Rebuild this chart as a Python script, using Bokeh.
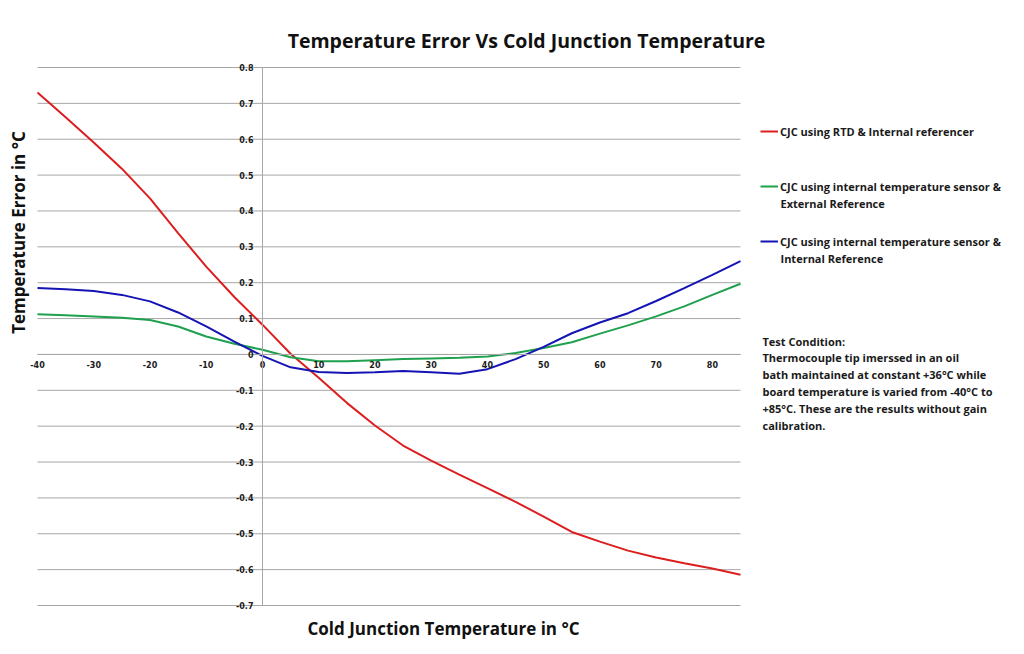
import math
from bokeh.plotting import figure
from bokeh.models import (Range1d, LinearAxis, FixedTicker, Label, Legend, LegendItem)
from bokeh.embed import file_html
from bokeh.resources import INLINE

# ---- data ----
temps = [-40, -35, -30, -25, -20, -15, -10, -5, 0, 5, 10, 15, 20, 25, 30, 35,
         40, 45, 50, 55, 60, 65, 70, 75, 80, 85]
rtd_internal = [0.730, 0.661, 0.591, 0.518, 0.435, 0.338, 0.245, 0.160, 0.083, 0.002,
                -0.065, -0.135, -0.198, -0.254, -0.296, -0.335, -0.373, -0.411,
                -0.452, -0.495, -0.522, -0.547, -0.566, -0.582, -0.597, -0.614]
sensor_external = [0.112, 0.109, 0.106, 0.102, 0.096, 0.078, 0.050, 0.030, 0.013, -0.008,
                   -0.019, -0.019, -0.016, -0.013, -0.011, -0.009, -0.006, 0.004,
                   0.018, 0.034, 0.058, 0.081, 0.106, 0.134, 0.166, 0.197]
sensor_internal = [0.185, 0.182, 0.177, 0.166, 0.148, 0.117, 0.078, 0.036, -0.004, -0.036,
                   -0.049, -0.052, -0.050, -0.046, -0.050, -0.054, -0.041, -0.013,
                   0.021, 0.059, 0.089, 0.115, 0.149, 0.185, 0.222, 0.260]

x_min, x_max = -40, 85
y_min, y_max = -0.7, 0.8
x_ticks = [-40, -30, -20, -10, 0, 10, 20, 30, 40, 50, 60, 70, 80]
x_tick_labels = ["-40", "-30", "-20", "-10", "0", "10", "20", "30", "40", "50", "60", "70", "80"]
y_ticks = [-0.7, -0.6, -0.5, -0.4, -0.3, -0.2, -0.1, 0, 0.1, 0.2, 0.3, 0.4, 0.5, 0.6, 0.7, 0.8]
y_tick_labels = ["-0.7", "-0.6", "-0.5", "-0.4", "-0.3", "-0.2", "-0.1", "0",
                 "0.1", "0.2", "0.3", "0.4", "0.5", "0.6", "0.7", "0.8"]

series_names = ["CJC using RTD & Internal referencer",
                "CJC using internal temperature sensor &",
                "CJC using internal temperature sensor &"]
series_second_lines = ["", "External Reference", "Internal Reference"]
series_colors = ["#dc1e1e", "#1fa04e", "#1414b4"]

title_text = "Temperature Error Vs Cold Junction Temperature"
x_title = "Cold Junction Temperature in \u00b0C"
y_title = "Temperature Error in \u00b0C"
note_title = "Test Condition:"
note_lines = ["Thermocouple  tip imerssed  in an oil",
              "bath maintained at constant +36\u00b0C while",
              "board temperature  is varied from -40\u00b0C to",
              "+85\u00b0C. These are the results without gain",
              "calibration."]

FONT = "Open Sans"
GRAY = "#a6a6a6"
TXT = "#1a1a1a"

W, H = 1016, 646
# plot region in canvas pixels: x -40 -> 37, 85 -> 740 ; y 0.8 -> 67, -0.7 -> 605
dx = (x_max - x_min) / 703
dy = (y_max - y_min) / 538


def fx(px):
    return x_min + (px - 37) * dx


def fy(py):
    return y_max - (py - 67) * dy


p = figure(width=W, height=H, x_range=Range1d(fx(0), fx(W)), y_range=Range1d(fy(H), fy(0)),
           output_backend="svg", toolbar_location=None,
           x_axis_type=None, y_axis_type=None,
           min_border_left=0, min_border_right=0, min_border_top=0, min_border_bottom=0)
p.outline_line_color = None
p.background_fill_color = "white"
p.border_fill_color = "white"

# horizontal grid lines spanning the plotted temperature range
p.segment(x0=[x_min] * len(y_ticks), x1=[x_max] * len(y_ticks), y0=y_ticks, y1=y_ticks,
          line_color=GRAY, line_width=1)

yticker = FixedTicker(ticks=y_ticks)
xticker = FixedTicker(ticks=x_ticks)
xaxis = LinearAxis(fixed_location=0, ticker=xticker, bounds=(x_min, x_max),
                   major_label_overrides=dict(zip(x_ticks, x_tick_labels)))
yaxis = LinearAxis(fixed_location=0, ticker=yticker, bounds=(y_min, y_max),
                   major_label_overrides=dict(zip(y_ticks, y_tick_labels)))
for ax in (xaxis, yaxis):
    ax.axis_line_color = GRAY
    ax.axis_line_width = 1
    ax.major_tick_in = 0
    ax.major_tick_out = 0
    ax.minor_tick_in = 0
    ax.minor_tick_out = 0
    ax.major_label_text_font = "DejaVu Sans"
    ax.major_label_text_font_style = "bold"
    ax.major_label_text_font_size = "8px"
    ax.major_label_text_color = TXT
xaxis.major_label_standoff = 7
yaxis.major_label_standoff = 9
p.add_layout(xaxis, "below")
p.add_layout(yaxis, "left")

renderers = []
for ys, c in zip([rtd_internal, sensor_external, sensor_internal], series_colors):
    r = p.line(temps, ys, line_color=c, line_width=2)
    renderers.append(r)

legend = Legend(items=[LegendItem(label=n, renderers=[r]) for n, r in zip(series_names, renderers)],
                location=(760, H - 249), margin=0, padding=0, spacing=39,
                label_height=16, glyph_height=16, glyph_width=18, label_standoff=2,
                label_text_font=FONT, label_text_font_style="bold", label_text_font_size="11px",
                label_text_color=TXT,
                border_line_color=None, background_fill_alpha=0)
p.add_layout(legend)

p.add_layout(Label(x=fx(526), y=fy(40), text=title_text, text_align="center", text_baseline="middle",
                   text_font=FONT, text_font_style="bold", text_font_size="19.5px", text_color="#111111"))
p.add_layout(Label(x=fx(443), y=fy(628), text=x_title, text_align="center", text_baseline="middle",
                   text_font=FONT, text_font_style="bold", text_font_size="17px", text_color="#111111"))
p.add_layout(Label(x=fx(18), y=fy(232), text=y_title, text_align="center", text_baseline="middle",
                   angle=math.pi / 2, text_font=FONT, text_font_style="bold", text_font_size="17px",
                   text_color="#111111"))

for i, t in enumerate(series_second_lines):
    if t:
        p.add_layout(Label(x=fx(780), y=fy(131 + 55 * i + 17), text=t, text_align="left",
                           text_baseline="middle", text_font=FONT, text_font_style="bold",
                           text_font_size="11px", text_color=TXT))

p.add_layout(Label(x=fx(762), y=fy(341), text=note_title, text_align="left", text_baseline="middle",
                   text_font=FONT, text_font_style="bold", text_font_size="11px", text_color=TXT))
for i, t in enumerate(note_lines):
    p.add_layout(Label(x=fx(762), y=fy(357 + 17 * i), text=t, text_align="left", text_baseline="middle",
                       text_font=FONT, text_font_style="bold", text_font_size="11px", text_color=TXT))

open("out.html", "w").write(file_html(p, INLINE))
